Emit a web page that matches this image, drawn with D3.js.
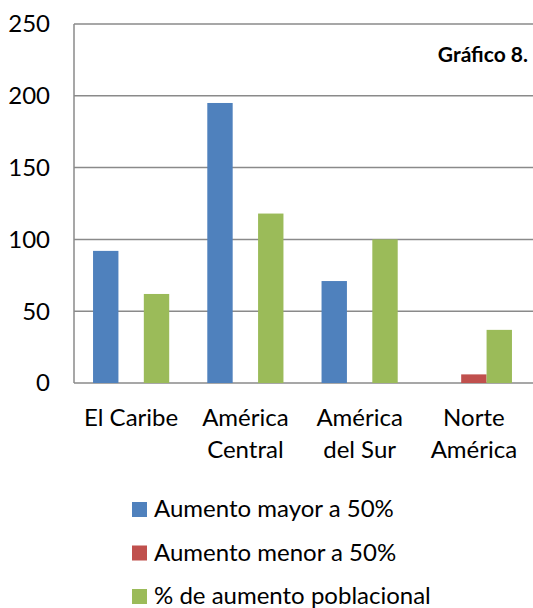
<!DOCTYPE html>
<html>
<head>
<meta charset="utf-8">
<script src="https://cdn.jsdelivr.net/npm/d3@7/dist/d3.min.js"></script>
<style>
  body { margin: 0; background: #fff; }
  svg text { font-family: Lato, "Open Sans", sans-serif; fill: #000; }
</style>
</head>
<body>
<div class="chart"></div>
<script>
const categories = [['El Caribe'], ['América', 'Central'], ['América', 'del Sur'], ['Norte', 'América']];
const seriesNames = ['Aumento mayor a 50%', 'Aumento menor a 50%', '% de aumento poblacional'];
const seriesColors = ['#4F81BD', '#C0504D', '#9BBB59'];
const aumentoMayor = [92, 195, 71, 0];
const aumentoMenor = [0, 0, 0, 6];
const aumentoPoblacional = [62, 118, 100, 37];
const yTicks = [0, 50, 100, 150, 200, 250];

const values = [aumentoMayor, aumentoMenor, aumentoPoblacional];
const width = 533;
const height = 608;
const margin = { top: 24, right: 2, bottom: 225, left: 74 };
const plotH = height - margin.top - margin.bottom;
const plotW = width - margin.left - margin.right;

const svg = d3.select('.chart')
  .append('svg')
  .attr('width', width)
  .attr('height', height);

const g = svg.append('g')
  .attr('transform', `translate(${margin.left}, ${margin.top})`);

const x0 = d3.scaleBand()
  .domain(d3.range(categories.length))
  .range([0, plotW])
  .padding(0);
const x1 = d3.scaleBand()
  .domain(d3.range(seriesNames.length))
  .range([0, x0.bandwidth()])
  .paddingInner(0)
  .paddingOuter(0.75);
const y = d3.scaleLinear()
  .domain([0, 250])
  .range([plotH, 0]);

// gridlines
g.selectAll('.grid')
  .data(yTicks)
  .enter()
  .append('line')
  .attr('x1', 0)
  .attr('x2', plotW + margin.right)
  .attr('y1', d => y(d))
  .attr('y2', d => y(d))
  .attr('stroke', '#8a8a8a')
  .attr('stroke-width', 1.5);

g.append('line')
  .attr('x1', 0).attr('x2', 0)
  .attr('y1', 0).attr('y2', plotH)
  .attr('stroke', '#8a8a8a')
  .attr('stroke-width', 1.5);

// y labels
g.selectAll('.ylab')
  .data(yTicks)
  .enter()
  .append('text')
  .attr('x', -24)
  .attr('y', d => y(d))
  .attr('dy', '0.35em')
  .attr('text-anchor', 'end')
  .attr('font-size', 24)
  .text(d => d);

// bars
const groups = g.selectAll('.grp')
  .data(categories.map((c, i) => i))
  .enter()
  .append('g')
  .attr('transform', i => `translate(${x0(i)}, 0)`);

groups.selectAll('rect')
  .data(i => values.map((s, k) => ({ k, v: s[i] })).filter(d => d.v > 0))
  .enter()
  .append('rect')
  .attr('x', d => x1(d.k))
  .attr('width', x1.bandwidth())
  .attr('y', d => y(d.v))
  .attr('height', d => plotH - y(d.v))
  .attr('fill', d => seriesColors[d.k]);

// category labels
groups.append('text')
  .attr('text-anchor', 'middle')
  .attr('font-size', 24)
  .attr('x', x0.bandwidth() / 2)
  .selectAll('tspan')
  .data(i => categories[i])
  .enter()
  .append('tspan')
  .attr('x', x0.bandwidth() / 2)
  .attr('y', (d, j) => plotH + 43 + j * 32)
  .text(d => d);

// title
svg.append('text')
  .attr('x', 528)
  .attr('y', 62)
  .attr('text-anchor', 'end')
  .attr('font-size', 21)
  .attr('font-weight', 'bold')
  .text('Gráfico 8.');

// legend
const legend = svg.selectAll('.leg')
  .data(seriesNames)
  .enter()
  .append('g')
  .attr('transform', (d, i) => `translate(132, ${509 + i * 43.5})`);

legend.append('rect')
  .attr('x', 0)
  .attr('y', -7)
  .attr('width', 15)
  .attr('height', 15)
  .attr('fill', (d, i) => seriesColors[i]);

legend.append('text')
  .attr('x', 22)
  .attr('y', 0)
  .attr('dy', '0.35em')
  .attr('font-size', 24)
  .text(d => d);
</script>
</body>
</html>
